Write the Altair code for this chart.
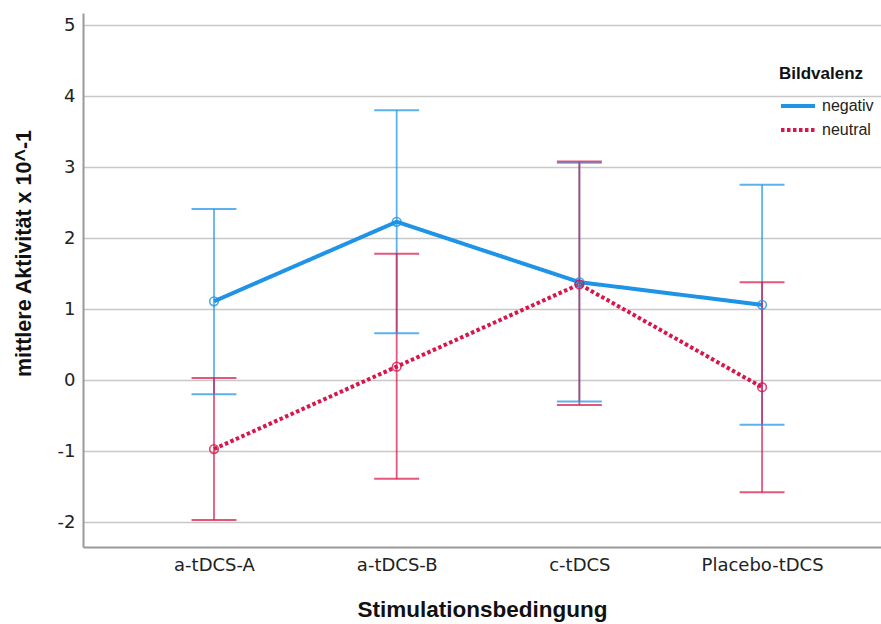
import json
import altair as alt
import pandas as pd

categories = ["a-tDCS-A", "a-tDCS-B", "c-tDCS", "Placebo-tDCS"]
groups = ["negativ", "neutral"]

neg_mean = [1.11, 2.23, 1.38, 1.06]
neg_lo = [-0.20, 0.66, -0.30, -0.63]
neg_hi = [2.41, 3.80, 3.06, 2.75]

neu_mean = [-0.97, 0.19, 1.35, -0.10]
neu_lo = [-1.97, -1.39, -0.35, -1.58]
neu_hi = [0.03, 1.78, 3.08, 1.38]

y_ticks = [-2, -1, 0, 1, 2, 3, 4, 5]

rows = []
for g, m, lo, hi in [("negativ", neg_mean, neg_lo, neg_hi), ("neutral", neu_mean, neu_lo, neu_hi)]:
    for i, c in enumerate(categories):
        rows.append({"idx": i, "cat": c, "Bildvalenz": g, "mean": m[i], "lo": lo[i], "hi": hi[i]})
df = pd.DataFrame(rows)

BLUE = "#1f94e6"
RED = "#d8164b"
CAP = 0.123

color = alt.Color("Bildvalenz:N", scale=alt.Scale(domain=groups, range=[BLUE, RED]),
                  legend=alt.Legend(title="Bildvalenz", symbolType="stroke"))
color_nl = alt.Color("Bildvalenz:N", scale=alt.Scale(domain=groups, range=[BLUE, RED]), legend=None)

label_js = json.dumps(categories)
x = alt.X("idx:Q",
          scale=alt.Scale(domain=[-0.717, 3.651], nice=False, zero=False),
          axis=alt.Axis(values=[0, 1, 2, 3], labelExpr=label_js + "[datum.value]",
                        title="Stimulationsbedingung", grid=False, ticks=False,
                        labelPadding=9, labelFont="DejaVu Sans", labelFontSize=18,
                        labelColor="#222", titleFont="Liberation Sans", titleFontSize=22.5,
                        titleFontWeight="bold", titleColor="#111", titleY=69,
                        titleBaseline="alphabetic", domainColor="#999", domainWidth=2))
y = alt.Y("mean:Q",
          scale=alt.Scale(domain=[-2.35, 5.17], nice=False, zero=False),
          axis=alt.Axis(values=y_ticks, format="d", labelExpr="replace(datum.label, '−', '-')",
                        title="mittlere Aktivität x 10^-1",
                        tickSize=0, labelPadding=8, labelFont="DejaVu Sans",
                        labelFontSize=18, labelColor="#222", gridColor="#c8c8c8",
                        gridWidth=1.5, titleFont="Liberation Sans", titleFontSize=21.5,
                        titleFontWeight="bold", titleColor="#111", titleX=-59, titleY=240,
                        titleAlign="center", titleBaseline="middle", titleAngle=-90,
                        domainColor="#999", domainWidth=2))

base = alt.Chart(df)

lines = base.mark_line(strokeWidth=4, strokeCap="butt").encode(
    x=x, y=y, color=color,
    strokeDash=alt.StrokeDash("Bildvalenz:N",
                              scale=alt.Scale(domain=groups, range=[[1, 0], [3.5, 2.5]]),
                              legend=alt.Legend(title="Bildvalenz", symbolType="stroke")))

bars = base.mark_rule(strokeWidth=1.8, opacity=0.72).encode(
    x="idx:Q", y="lo:Q", y2="hi:Q", color=color_nl)

caps_base = base.transform_calculate(x1="datum.idx - %f" % CAP, x2="datum.idx + %f" % CAP)
cap_lo = caps_base.mark_rule(strokeWidth=2, opacity=0.72).encode(
    x="x1:Q", x2="x2:Q", y="lo:Q", color=color_nl)
cap_hi = caps_base.mark_rule(strokeWidth=2, opacity=0.72).encode(
    x="x1:Q", x2="x2:Q", y="hi:Q", color=color_nl)

points = base.mark_point(shape="circle", filled=False, size=75, strokeWidth=1.6, opacity=0.8).encode(
    x="idx:Q", y="mean:Q", color=color_nl)

chart = alt.layer(lines, bars, cap_lo, cap_hi, points).properties(
    width=798, height=534,
    autosize=alt.AutoSizeParams(type="none"),
    padding={"left": 83, "top": 13, "right": 0, "bottom": 77},
).configure_view(stroke=None).configure_legend(
    orient="none", legendX=696, legendY=53, padding=0,
    titleFont="Liberation Sans", titleFontSize=17, titleFontWeight="bold", titleColor="#111",
    titlePadding=13, labelFont="Liberation Sans", labelFontSize=16, labelColor="#222",
    symbolSize=1156, symbolStrokeWidth=4, clipHeight=20, rowPadding=4, labelOffset=5,
)

chart.save("out.html", embed_options={"renderer": "svg", "actions": False})
